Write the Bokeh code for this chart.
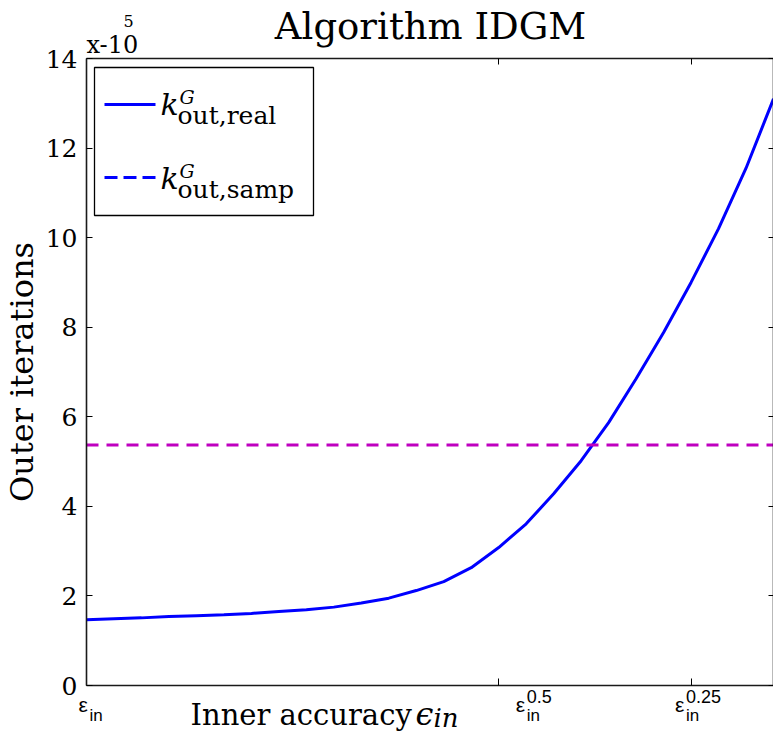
from bokeh.plotting import figure
from bokeh.models import Label, BoxAnnotation, Arrow, FixedTicker, LinearAxis, Range1d
from bokeh.embed import file_html
from bokeh.resources import INLINE

# ---------------- data (values in units of 10^5) ----------------
x_index = list(range(26))
k_out_real = [1.47, 1.49, 1.51, 1.54, 1.56, 1.58, 1.61, 1.65, 1.69, 1.75,
              1.84, 1.95, 2.12, 2.32, 2.63, 3.08, 3.61, 4.28, 5.02, 5.87,
              6.85, 7.88, 9.00, 10.20, 11.55, 13.10]
k_out_samp = 5.37
y_ticks = [0, 2, 4, 6, 8, 10, 12, 14]
x_tick_pos = [0, 15, 22]
x_tick_sup = ["", "0.5", "0.25"]
x_tick_shift = [-8, 17, -16]          # label placement offsets (px)

SERIF = "DejaVu Serif"
SANS = "Liberation Sans"
W, H = 773, 735
BOX_L, BOX_R, BOX_T, BOX_B = 86, 773, 58, 685   # plot box in canvas pixels
BASE_ADJ = 0.3   # baseline correction (fraction of font size)

X0, X1 = x_index[0], x_index[-1]
Y0, Y1 = y_ticks[0], y_ticks[-1]
sx = (BOX_R - BOX_L) / (X1 - X0)
sy = (BOX_B - BOX_T) / (Y1 - Y0)
xr = Range1d(X0 - BOX_L / sx, X1 + (W - BOX_R) / sx)
yr = Range1d(Y0 - (H - BOX_B) / sy, Y1 + BOX_T / sy)

p = figure(width=W, height=H, output_backend="svg", toolbar_location=None,
           x_range=xr, y_range=yr, x_axis_location=None, y_axis_location=None,
           min_border_left=0, min_border_right=0, min_border_top=0,
           min_border_bottom=0)
p.xgrid.visible = False
p.ygrid.visible = False
p.outline_line_color = None
p.background_fill_color = "white"
p.border_fill_color = "white"


def make_axis(side, loc, ticks, bounds, tin, labels=False):
    ax = LinearAxis(fixed_location=loc, bounds=bounds, ticker=FixedTicker(ticks=ticks),
                    major_tick_in=tin, major_tick_out=0, minor_tick_line_color=None,
                    major_tick_line_color="black", major_tick_line_width=1,
                    axis_line_color="#1a1a1a", axis_line_width=1.6)
    if labels:
        ax.major_label_text_font = SERIF
        ax.major_label_text_font_size = "25px"
        ax.major_label_text_color = "black"
        ax.major_label_standoff = 9
    else:
        ax.major_label_text_color = None
    p.add_layout(ax, side)
    return ax


ya = make_axis("left", X0, y_ticks, (Y0, Y1), 6, labels=True)
ya.axis_label = "Outer iterations"
ya.axis_label_text_font = SERIF
ya.axis_label_text_font_size = "32px"
ya.axis_label_text_font_style = "normal"
ya.axis_label_text_color = "black"
ya.axis_label_standoff = 2
make_axis("below", Y0, x_tick_pos, (X0, X1), 7)
make_axis("right", X1, y_ticks, (Y0, Y1), 5)
make_axis("above", Y1, x_tick_pos, (X0, X1), 6)

# data lines
p.line(x_index, k_out_real, line_color="#0000FF", line_width=3)
p.line([X0, X1], [k_out_samp, k_out_samp],
       line_color="#BF00BF", line_width=3, line_dash="12 8")


def lab(x, base_py, text, size, font=SERIF, style="normal", align="left",
        xu="screen", xoff=0):
    p.add_layout(Label(x=x, y=(H - base_py) + BASE_ADJ * size, x_units=xu,
                       y_units="screen", x_offset=xoff, text=text, text_font=font,
                       text_font_size=f"{size}px", text_font_style=style,
                       text_align=align, text_color="black",
                       text_baseline="alphabetic"))


# title and multiplier
lab(430, 37, "Algorithm IDGM", 37, align="center")
lab(86, 52, "x-10", 24)
lab(123, 25, "5", 16)

# legend (drawn by hand to allow sub/superscripts)
p.add_layout(BoxAnnotation(left=94, right=313, top=H - 67, bottom=H - 215,
                           left_units="screen", right_units="screen",
                           top_units="screen", bottom_units="screen",
                           fill_color="white", fill_alpha=1.0,
                           line_color="black", line_width=1.3, line_alpha=1.0))
p.add_layout(Arrow(x_start=104, y_start=H - 104, x_end=155, y_end=H - 104,
                   start_units="screen", end_units="screen", start=None, end=None,
                   line_color="#0000FF", line_width=3))
p.add_layout(Arrow(x_start=104, y_start=H - 177, x_end=155, y_end=H - 177,
                   start_units="screen", end_units="screen", start=None, end=None,
                   line_color="#0000FF", line_width=3, line_dash="13 6"))
for base, sub in [(113, "out,real"), (187, "out,samp")]:
    lab(160, base, "k", 30, style="italic")
    lab(179, base - 11, "G", 19, style="italic")
    lab(177, base + 9, sub, 25)

# x tick labels
for pos, sup, sh in zip(x_tick_pos, x_tick_sup, x_tick_shift):
    lab(pos, 710, "ε", 21, font=SANS, xu="data", xoff=sh)
    lab(pos, 720, "in", 17, font=SANS, xu="data", xoff=sh + 11)
    if sup:
        lab(pos, 701, sup, 18, font=SANS, xu="data", xoff=sh + 11)

# x axis label
lab(190, 723, "Inner accuracy", 29)
lab(415, 723, "ϵ", 32, style="italic")
lab(433, 725, "in", 26, style="italic")

open("out.html", "w").write(file_html(p, INLINE))
